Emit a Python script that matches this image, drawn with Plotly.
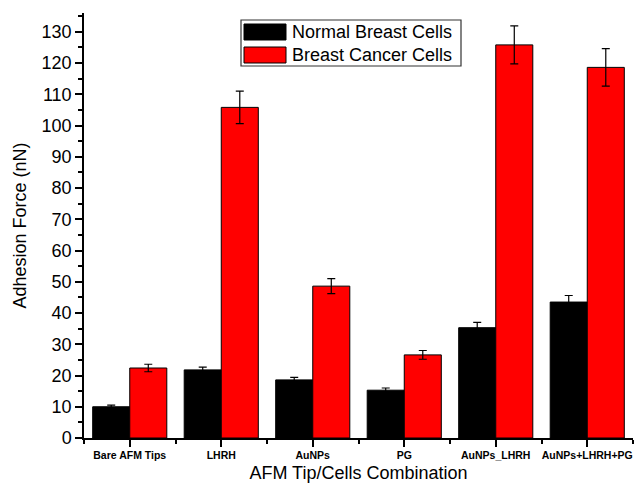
import plotly.graph_objects as go

categories = ["Bare AFM Tips", "LHRH", "AuNPs", "PG", "AuNPs_LHRH", "AuNPs+LHRH+PG"]
normal_vals = [10.0, 21.8, 18.6, 15.3, 35.3, 43.5]
normal_err = [0.5, 0.9, 0.8, 0.7, 1.7, 2.1]
cancer_vals = [22.4, 105.8, 48.6, 26.6, 125.8, 118.6]
cancer_err = [1.2, 5.2, 2.4, 1.4, 6.1, 6.0]
series_names = ["Normal Breast Cells", "Breast Cancer Cells"]
series_colors = ["#000000", "#ff0000"]
y_ticks = list(range(0, 131, 10))

W, H = 635, 484
ML, MR, MT, MB = 84, 2, 13, 46
PW, PH = W - ML - MR, H - MT - MB

def px(x):
    return (x - ML) / PW

def py(y):
    return (H - MB - y) / PH

xs = list(range(len(categories)))
FONT = "Arial, Liberation Sans, sans-serif"

fig = go.Figure()
for name, vals, errs, col in [
    (series_names[0], normal_vals, normal_err, series_colors[0]),
    (series_names[1], cancer_vals, cancer_err, series_colors[1]),
]:
    fig.add_trace(go.Bar(
        x=xs, y=vals, name=name,
        marker=dict(color=col, line=dict(color="#000000", width=1)),
        error_y=dict(type="data", array=errs, visible=True, color="#000000",
                     thickness=1.2, width=4),
        showlegend=False,
    ))

fig.update_layout(
    width=W, height=H,
    margin=dict(l=ML, r=MR, t=MT, b=MB, pad=0),
    paper_bgcolor="white", plot_bgcolor="white",
    barmode="group", bargap=0.19, bargroupgap=0,
    font=dict(family=FONT, size=18, color="#000000"),
)

fig.update_xaxes(
    range=[-0.5, len(categories) - 0.5],
    tickmode="array", tickvals=xs, ticktext=categories,
    tickfont=dict(family=FONT, size=10.5, color="#000000", weight="bold"),
    ticks="outside", ticklen=7, tickwidth=1.5, tickcolor="#000000",
    minor=dict(tick0=0.5, dtick=1, ticks="outside", ticklen=4, tickwidth=1.5, tickcolor="#000000"),
    showline=True, linecolor="#000000", linewidth=1.5,
    showgrid=False, zeroline=False,
    title=dict(text="AFM Tip/Cells Combination", font=dict(size=18), standoff=6),
)
fig.update_yaxes(
    range=[0, 136],
    tickmode="array", tickvals=y_ticks,
    tickfont=dict(family=FONT, size=18, color="#000000"),
    ticks="outside", ticklen=7, tickwidth=1.5, tickcolor="#000000",
    minor=dict(dtick=5, tick0=0, ticks="outside", ticklen=4, tickwidth=1.5, tickcolor="#000000"),
    showline=True, linecolor="#000000", linewidth=1.5,
    showgrid=False, zeroline=False,
    title=dict(text="Adhesion Force (nN)", font=dict(size=18), standoff=10),
)

# custom legend (box + wide swatches)
shapes = [dict(type="rect", xref="paper", yref="paper",
               x0=px(241), x1=px(461), y0=py(66), y1=py(20),
               line=dict(color="#333333", width=1.2), fillcolor="white", layer="above")]
annots = []
for i, (name, col) in enumerate(zip(series_names, series_colors)):
    top = 24 + i * 23
    shapes.append(dict(type="rect", xref="paper", yref="paper",
                       x0=px(244), x1=px(286), y0=py(top + 16), y1=py(top),
                       line=dict(color="#000000", width=1), fillcolor=col, layer="above"))
    annots.append(dict(xref="paper", yref="paper", x=px(290), y=py(top + 8),
                       text=name, showarrow=False, xanchor="left", yanchor="middle",
                       font=dict(family=FONT, size=18, color="#000000")))
fig.update_layout(shapes=shapes, annotations=annots)

fig.write_html("out.html")
